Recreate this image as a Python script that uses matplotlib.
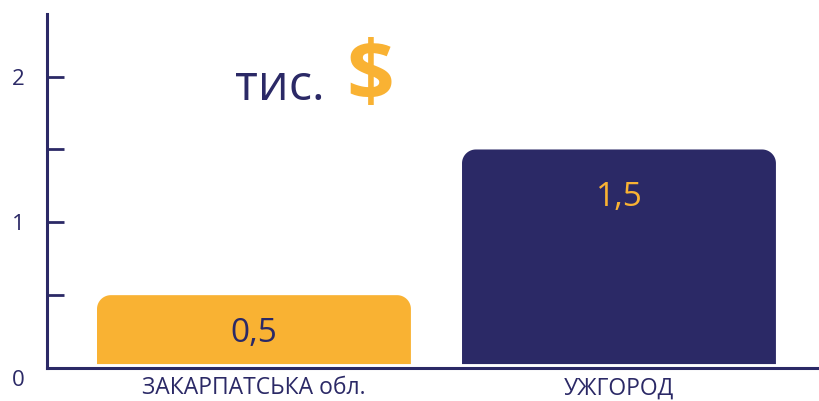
import matplotlib.pyplot as plt
import numpy as np
from matplotlib.path import Path
from matplotlib.patches import PathPatch
from matplotlib.transforms import ScaledTranslation

plt.rcParams['font.family'] = ['Open Sans', 'DejaVu Sans']

categories = ['ЗАКАРПАТСЬКА обл.', 'УЖГОРОД']
values = [0.5, 1.5]
value_labels = ['0,5', '1,5']
bar_colors = ['#F9B233', '#2B2966']
label_colors = ['#2B2966', '#F9B233']

navy = '#2B2966'
orange = '#F9B233'

fig = plt.figure(figsize=(8.19, 4.01), dpi=100)
ax = fig.add_axes([47 / 819, 33 / 401, 772 / 819, 354 / 401])
ax.set_xlim(-0.567, 1.548)
ax.set_ylim(0, 2.43)

width = 0.86
base = 0.027
rx, ry = 0.038, 0.095


def rounded_bar(x, h, color):
    x0, x1 = x - width / 2, x + width / 2
    t = np.linspace(0, np.pi / 2, 20)
    left = np.column_stack([x0 + rx - rx * np.cos(t), h - ry + ry * np.sin(t)])
    right = np.column_stack([x1 - rx + rx * np.sin(t), h - ry + ry * np.cos(t)])
    pts = np.vstack([[x0, base], left, right, [x1, base], [x0, base]])
    ax.add_patch(PathPatch(Path(pts), facecolor=color, edgecolor='none'))


xs = np.arange(len(categories))
for x, v, c in zip(xs, values, bar_colors):
    rounded_bar(x, v, c)

ax.text(xs[0], values[0] / 2 - 0.01, value_labels[0], ha='center',
        va='center', fontsize=24, color=label_colors[0])
ax.text(xs[1], values[1] - 0.33, value_labels[1], ha='center', va='center',
        fontsize=24, color=label_colors[1])

ax.text(0.071, 1.93, 'тис.', ha='center', va='center', fontsize=35, color=navy)
ax.text(0.318, 1.99, '$', ha='center', va='center', fontsize=60,
        fontweight='bold', color=orange)

for s in ['top', 'right']:
    ax.spines[s].set_visible(False)
for s in ['left', 'bottom']:
    ax.spines[s].set_color(navy)
    ax.spines[s].set_linewidth(2.2)

ax.set_xticks(xs)
ax.set_xticklabels(categories, fontsize=16.5, color=navy)
ax.tick_params(axis='x', length=0, pad=6)

ax.set_yticks([0, 1, 2])
ax.set_yticklabels(['0', '1', '2'], fontsize=16, color=navy)
ax.set_yticks([0.5, 1.5], minor=True)
ax.tick_params(axis='y', which='both', direction='in', length=12, width=2,
               color=navy, pad=16)
lab0 = ax.get_yticklabels()[0]
lab0.set_transform(lab0.get_transform() + ScaledTranslation(0, -7 / 72, fig.dpi_scale_trans))

fig.savefig('out.png', dpi=100)
